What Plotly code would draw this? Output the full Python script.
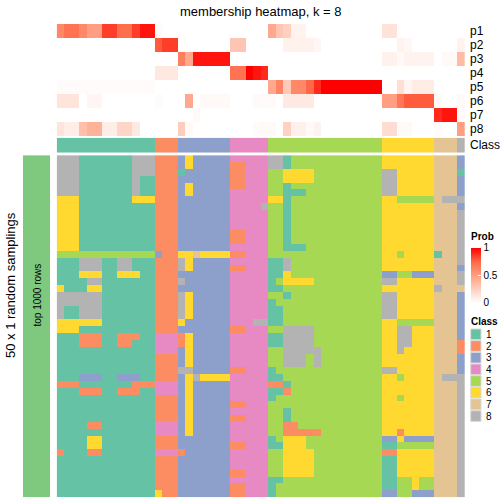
import plotly.graph_objects as go

W, H = 504, 504
FONT = "Liberation Sans, Arial, Helvetica, sans-serif"

title_text = "membership heatmap, k = 8"
prob_labels = ["p1", "p2", "p3", "p4", "p5", "p6", "p7", "p8"]

# membership probabilities, 54 columns (samples)
p1 = [0.6, 0.7, 0.7, 0.6, 0.5, 0.5, 0.85, 0.85, 0.72, 0.72, 0.85, 0.95, 0.95,
      0.02, 0, 0,
      0, 0, 0, 0, 0, 0, 0,
      0, 0, 0, 0, 0,
      0.45, 0.3, 0.25, 0.06, 0.06, 0, 0, 0, 0, 0, 0, 0, 0, 0, 0,
      0.15, 0.15, 0, 0, 0, 0, 0,
      0, 0, 0,
      0]
p2 = [0, 0, 0, 0, 0, 0, 0, 0, 0, 0, 0, 0, 0,
      0.78, 0.85, 0.85,
      0, 0, 0, 0, 0, 0, 0,
      0.3, 0.3, 0, 0, 0,
      0, 0, 0.07, 0.07, 0.07, 0.07, 0.04, 0, 0, 0, 0, 0, 0, 0, 0,
      0, 0, 0.06, 0.04, 0, 0, 0,
      0, 0, 0,
      0.06]
p3 = [0, 0, 0, 0, 0, 0, 0, 0, 0, 0, 0, 0, 0,
      0, 0, 0,
      0.65, 0.45, 0.95, 0.95, 0.95, 0.95, 0.95,
      0, 0, 0, 0, 0,
      0, 0, 0, 0, 0, 0, 0, 0, 0, 0, 0, 0, 0, 0, 0,
      0.07, 0.07, 0.03, 0.06, 0.06, 0.06, 0.06,
      0, 0.03, 0.03,
      0.35]
p4 = [0, 0, 0, 0, 0, 0, 0, 0, 0, 0, 0, 0, 0,
      0.12, 0.12, 0.12,
      0, 0, 0, 0, 0, 0, 0,
      0.7, 0.7, 1.0, 0.95, 0.9,
      0, 0, 0, 0, 0, 0, 0, 0, 0, 0, 0, 0, 0, 0, 0,
      0, 0, 0, 0, 0, 0, 0,
      0, 0, 0,
      0]
p5 = [0.02, 0.02, 0.02, 0.02, 0.02, 0.02, 0.02, 0.02, 0.02, 0.02, 0.02, 0.02, 0.02,
      0, 0, 0,
      0, 0, 0, 0, 0, 0, 0,
      0, 0, 0, 0, 0,
      0.45, 0.62, 0.28, 0.6, 0.6, 0.75, 0.9, 1, 1, 1, 1, 1, 1, 1, 1,
      0, 0, 0.17, 0.05, 0.1, 0.1, 0.1,
      0, 0, 0,
      0]
p6 = [0.14, 0.14, 0.14, 0, 0.05, 0.05, 0, 0, 0, 0, 0, 0, 0,
      0.02, 0, 0,
      0, 0.45, 0, 0.03, 0.03, 0.03, 0.03,
      0, 0, 0, 0.03, 0.02,
      0.02, 0, 0.11, 0.11, 0.11, 0.11, 0, 0, 0, 0, 0, 0, 0, 0, 0,
      0.5, 0.5, 0.68, 0.78, 0.78, 0.78, 0.78,
      0.03, 0, 0,
      0.03]
p7 = [0, 0, 0, 0, 0, 0, 0, 0, 0, 0, 0, 0, 0,
      0, 0, 0,
      0, 0, 0.03, 0, 0, 0, 0,
      0, 0, 0, 0, 0,
      0, 0, 0, 0, 0, 0, 0, 0, 0, 0, 0, 0, 0, 0, 0,
      0, 0, 0, 0, 0, 0, 0,
      0.9, 0.95, 0.95,
      0.02]
p8 = [0.14, 0.09, 0.09, 0.33, 0.4, 0.4, 0.09, 0.09, 0.22, 0.22, 0.11, 0, 0,
      0, 0, 0,
      0.26, 0.03, 0, 0, 0, 0, 0,
      0, 0, 0, 0.02, 0.03,
      0.03, 0, 0.24, 0.08, 0.08, 0.03, 0.06, 0, 0, 0, 0, 0, 0, 0, 0,
      0.18, 0.18, 0.03, 0.03, 0, 0, 0,
      0.02, 0, 0,
      0.5]

# consensus class per column
class_row = "1111111111111 222 3333333 44444 555555555555555 6666666 777 8"

# class assignment in each of the 50 random samplings (rows) x 54 columns
samplings = [
    "8881111111888 222 3633333 44444 881555555555555 6666666 777 3",
    "8881111111888 222 3633333 22444 881555555555555 6666666 777 3",
    "8881111111888 222 1333333 22444 556666555555555 8866666 777 1",
    "8881111111811 222 3333333 22444 556666555555555 8866666 777 3",
    "8881111111811 222 3633333 22444 551555555555555 8866666 777 3",
    "8881111111811 222 3633333 44444 551115555555555 8866666 777 3",
    "6661111111666 222 3333333 44444 661555555555555 6655555 788 8",
    "6661111111111 222 3333333 44448 551555555555555 6666666 777 3",
    "6661111111111 222 3333333 44444 551555555555555 6666666 777 8",
    "6661111111111 222 3333333 44444 551555555555555 6666666 777 8",
    "6661111111111 222 3333333 44444 551555555555555 6666666 777 8",
    "6661111111111 222 3333333 22444 551555555555555 6666666 777 8",
    "6661111111111 222 3333333 22444 551555555555555 6666666 777 8",
    "6661111111111 222 3333333 44444 551115555555555 6666666 777 8",
    "5555555555555 322 6676666 22444 555555555555555 6656666 177 8",
    "1118881188111 222 8633333 44444 118555555555555 6666666 777 8",
    "1118881188111 222 8633333 22444 118555555555555 6666666 777 3",
    "1116661166611 222 3333333 44444 116555555555555 3355333 777 8",
    "1111881111111 222 8333333 44444 156666555555555 8866666 777 8",
    "6111661111111 222 3333333 44444 115555555555555 6666666 877 7",
    "8888881111111 222 8633333 44444 551555555555555 8866666 777 3",
    "8888881111111 222 8633333 44444 155555555555555 8866666 777 3",
    "8118881111111 222 8633333 44444 115555555555555 8866666 777 3",
    "8118881111111 222 8633333 44444 115555555555555 8866666 777 3",
    "6666661111111 222 6333333 44488 115555555555555 6655555 777 3",
    "6661111111111 222 3333333 22444 558888555555555 6688666 777 3",
    "1112221122211 444 2633333 44444 118888555555555 6688666 777 3",
    "1112221122111 444 2633333 44444 118888555555555 6688666 777 2",
    "1111111111111 444 3633333 44444 558888855555555 6686666 777 2",
    "1111111111111 222 3633333 44444 558885855555555 6666666 777 3",
    "1111111111111 222 3633333 44444 558885855555555 6666666 777 3",
    "1111111111111 222 8833333 22444 155555555555555 8866666 777 3",
    "1113331133311 222 3686666 44444 115555555555555 6656666 788 8",
    "2221111111222 444 3633333 44444 221555555555555 6666666 777 8",
    "1112221122211 444 3633333 44444 112555555555555 6666666 777 8",
    "1111111111111 222 3633333 44444 155555555555555 6656666 777 8",
    "1111111111111 222 3633333 22444 555555555555555 6666666 777 8",
    "1111111111111 222 3633333 44444 551555555555555 6666666 777 8",
    "1111111111111 222 3633333 22444 551555555555555 6666666 777 8",
    "1111221111111 444 3633333 44444 552255555555555 6666666 777 8",
    "1111111111111 444 3633333 44444 552222255555555 6626666 777 8",
    "1111661111111 222 3333333 44444 156665555555555 3363333 777 8",
    "1111661111111 222 3333333 22444 116665555555555 1155555 777 8",
    "2111221111111 444 2333333 44444 556666555555555 2266666 777 8",
    "1111111111111 222 3333333 44444 556666555555555 1166666 777 8",
    "1111111111111 222 3333333 44444 556666555555555 1166666 777 8",
    "1111111111111 222 3333333 22444 556666555555555 1166666 777 8",
    "1111111111111 222 3333333 44444 115555555555555 1155655 777 8",
    "1111111111111 222 3333333 22444 155555555555555 1155655 777 8",
    "1111111111111 622 3333333 22444 155555555555555 3355333 777 8",
]

class_labels = ["1", "2", "3", "4", "5", "6", "7", "8"]
class_colors = ["#66C2A5", "#FC8D62", "#8DA0CB", "#E78AC3",
                "#A6D854", "#FFD92F", "#E5C494", "#B3B3B3"]
prob_stops = [0, 0.25, 0.5, 0.75, 1]
prob_colors = ["#FFFFFF", "#FFCFBF", "#FF9E81", "#FF6846", "#FF0000"]
annot_color = "#7FC97F"
annot_text = "top 1000 rows"
row_title = "50 x 1 random samplings"


def parse(s):
    return [int(c) for c in s.replace(" ", "")]


def py(y):
    return 1 - y / H


def px(x):
    return x / W


n_col = len(p1)
cols = list(range(n_col))
prob_z = [p1, p2, p3, p4, p5, p6, p7, p8]
class_z = [parse(class_row)]
samp_z = [parse(s) for s in samplings]
n_samp = len(samp_z)

prob_scale = [[s, c] for s, c in zip(prob_stops, prob_colors)]
n_cls = len(class_colors)
cls_scale = []
for k, c in enumerate(class_colors):
    cls_scale.append([k / n_cls, c])
    cls_scale.append([(k + 1) / n_cls, c])

X0, X1 = 56.7, 465.0
PROB_TOP, PROB_BOT = 24.0, 136.3
CLS_TOP, CLS_BOT = 137.7, 152.7
SAMP_TOP, SAMP_BOT = 155.15, 497.6

fig = go.Figure()
fig.add_trace(go.Heatmap(
    z=prob_z, x=cols, y=prob_labels, colorscale=prob_scale, zmin=0, zmax=1,
    xaxis="x", yaxis="y", hoverinfo="skip",
    colorbar=dict(x=px(470.7), xanchor="left", y=py(247.5), yanchor="top",
                  len=55, lenmode="pixels", thickness=10.3, thicknessmode="pixels",
                  xpad=0, ypad=0, outlinewidth=0,
                  tickvals=[0, 0.5, 1], ticktext=["0", "0.5", "1"],
                  ticks="inside", ticklen=3, tickcolor="white",
                  tickfont=dict(size=10, family=FONT, color="black"))))
fig.add_trace(go.Heatmap(
    z=class_z, x=cols, colorscale=cls_scale, zmin=0.5, zmax=8.5,
    xaxis="x2", yaxis="y2", showscale=False, hoverinfo="skip"))
fig.add_trace(go.Heatmap(
    z=samp_z, x=cols, y=list(range(n_samp)), colorscale=cls_scale, zmin=0.5, zmax=8.5,
    xaxis="x3", yaxis="y3", showscale=False, hoverinfo="skip"))
fig.add_trace(go.Heatmap(
    z=[[1]], colorscale=[[0, annot_color], [1, annot_color]],
    xaxis="x4", yaxis="y4", showscale=False, hoverinfo="skip"))

hid = dict(visible=False, showgrid=False, zeroline=False, fixedrange=True)
xr = [-0.5, n_col - 0.5]
layout = dict(
    width=W, height=H, margin=dict(l=0, r=0, t=0, b=0, autoexpand=False),
    paper_bgcolor="white", plot_bgcolor="white", showlegend=False,
    font=dict(family=FONT, color="black"),
    xaxis=dict(domain=[px(X0), px(X1)], range=xr, **hid),
    yaxis=dict(domain=[py(PROB_BOT), py(PROB_TOP)], autorange="reversed", **hid),
    xaxis2=dict(domain=[px(X0), px(X1)], range=xr, **hid),
    yaxis2=dict(domain=[py(CLS_BOT), py(CLS_TOP)], range=[0.5, -0.5], **hid),
    xaxis3=dict(domain=[px(X0), px(X1)], range=xr, **hid),
    yaxis3=dict(domain=[py(SAMP_BOT), py(SAMP_TOP)], range=[n_samp - 0.5, -0.5], **hid),
    xaxis4=dict(domain=[px(23), px(50)], range=[-0.5, 0.5], **hid),
    yaxis4=dict(domain=[py(SAMP_BOT), py(SAMP_TOP)], range=[-0.5, 0.5], **hid),
)
fig.update_layout(**layout)

ann = []
ann.append(dict(text=title_text, x=px((X0 + X1) / 2), y=py(11), xref="paper", yref="paper",
                xanchor="center", yanchor="middle", showarrow=False,
                font=dict(size=13, family=FONT)))
row_h = (PROB_BOT - PROB_TOP) / len(prob_labels)
for i, lab in enumerate(prob_labels):
    ann.append(dict(text=lab, x=px(467.5), y=py(PROB_TOP + row_h * (i + 0.5)),
                    xref="paper", yref="paper", xanchor="left", yanchor="middle",
                    showarrow=False, font=dict(size=12, family=FONT)))
ann.append(dict(text="Class", x=px(467.5), y=py((CLS_TOP + CLS_BOT) / 2),
                xref="paper", yref="paper", xanchor="left", yanchor="middle",
                showarrow=False, font=dict(size=12, family=FONT)))
ann.append(dict(text=row_title, x=px(10), y=py(285), xref="paper", yref="paper",
                xanchor="center", yanchor="middle", textangle=-90, showarrow=False,
                font=dict(size=13, family=FONT)))
ann.append(dict(text=annot_text, x=px(36.5), y=py(295), xref="paper", yref="paper",
                xanchor="center", yanchor="middle", textangle=-90, showarrow=False,
                font=dict(size=10, family=FONT)))
ann.append(dict(text="<b>Prob</b>", x=px(469), y=py(236.5), xref="paper", yref="paper",
                xanchor="left", yanchor="middle", showarrow=False,
                font=dict(size=10, family=FONT)))
ann.append(dict(text="<b>Class</b>", x=px(469), y=py(321), xref="paper", yref="paper",
                xanchor="left", yanchor="middle", showarrow=False,
                font=dict(size=10, family=FONT)))

shapes = []
LEG_TOP, LEG_STEP = 328.5, 11.67
for k, (lab, c) in enumerate(zip(class_labels, class_colors)):
    y0 = LEG_TOP + LEG_STEP * k
    shapes.append(dict(type="rect", xref="paper", yref="paper",
                       x0=px(470.7), x1=px(481), y0=py(y0 + 0.5), y1=py(y0 + LEG_STEP - 0.5),
                       fillcolor=c, line=dict(color="#D9D9D9", width=1)))
    ann.append(dict(text=lab, x=px(484), y=py(y0 + LEG_STEP / 2), xref="paper", yref="paper",
                    xanchor="left", yanchor="middle", showarrow=False,
                    font=dict(size=10, family=FONT)))

fig.update_layout(annotations=ann, shapes=shapes)
fig.write_html("out.html", config={"displayModeBar": False},
               post_script="document.body.style.margin='0';document.body.style.overflow='hidden';")
